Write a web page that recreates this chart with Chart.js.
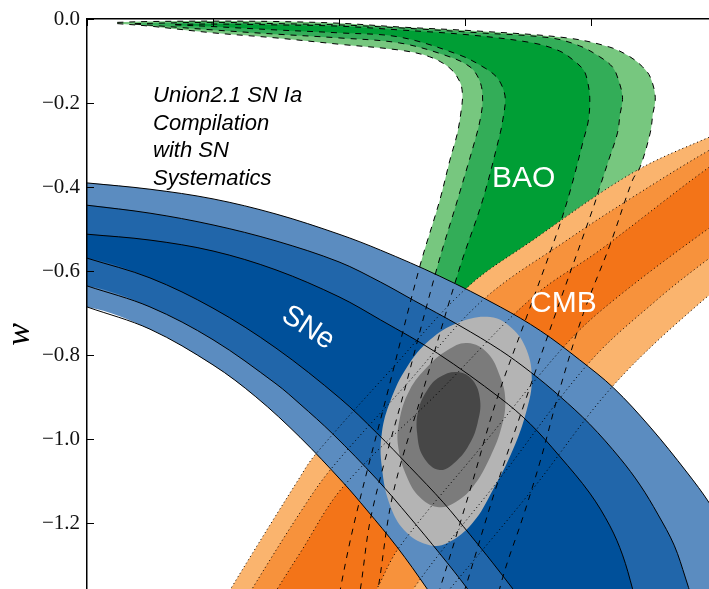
<!DOCTYPE html>
<html>
<head>
<meta charset="utf-8">
<title>Union2.1 w vs Omega_m</title>
<script src="https://cdn.jsdelivr.net/npm/chart.js@4.4.1/dist/chart.umd.min.js"></script>
<style>
  html, body { margin: 0; padding: 0; overflow: hidden; background: #ffffff; }
  #wrap { width: 717px; height: 650px; }
</style>
</head>
<body>
<div id="wrap"><canvas id="c" width="717" height="650"></canvas></div>
<script>
// ---- axes ----
const omegaTicks = [0, 0.1, 0.2, 0.3, 0.4, 0.5];
const wTicks = [0, -0.2, -0.4, -0.6, -0.8, -1.0, -1.2, -1.4];
const wTickLabels = ['0.0', '\u22120.2', '\u22120.4', '\u22120.6', '\u22120.8', '\u22121.0', '\u22121.2', '\u22121.4'];

// ---- SNe confidence contours [Omega_m, w], left to right ----
const sneOuterTop = [[0,-0.390],[0.05,-0.405],[0.1,-0.428],[0.15,-0.464],[0.2,-0.512],[0.233,-0.550],[0.280,-0.612],[0.328,-0.685],[0.360,-0.742],[0.391,-0.811],[0.418,-0.878],[0.447,-0.971],[0.476,-1.078],[0.494,-1.152],[0.518,-1.271],[0.55,-1.454]];
const sneMidTop = [[0,-0.443],[0.05,-0.462],[0.1,-0.490],[0.15,-0.528],[0.2,-0.578],[0.233,-0.626],[0.259,-0.669],[0.296,-0.730],[0.328,-0.788],[0.352,-0.840],[0.375,-0.897],[0.399,-0.964],[0.423,-1.045],[0.439,-1.109],[0.453,-1.178],[0.466,-1.252],[0.475,-1.330],[0.484,-1.418],[0.494,-1.525]];
const sneInnerTop = [[0,-0.512],[0.05,-0.526],[0.1,-0.552],[0.15,-0.597],[0.2,-0.661],[0.233,-0.716],[0.278,-0.795],[0.328,-0.902],[0.352,-0.964],[0.375,-1.040],[0.399,-1.128],[0.415,-1.206],[0.425,-1.275],[0.433,-1.356],[0.443,-1.473]];
const sneInnerBottom = [[0,-0.569],[0.05,-0.616],[0.1,-0.688],[0.15,-0.783],[0.201,-0.903],[0.230,-0.985],[0.256,-1.065],[0.283,-1.151],[0.304,-1.227],[0.322,-1.294],[0.338,-1.356],[0.360,-1.443],[0.383,-1.544]];
const sneMidBottom = [[0,-0.635],[0.05,-0.685],[0.1,-0.763],[0.15,-0.868],[0.169,-0.916],[0.195,-0.987],[0.230,-1.095],[0.256,-1.185],[0.280,-1.272],[0.302,-1.356],[0.328,-1.466],[0.352,-1.573]];
const sneOuterBottom = [[0,-0.685],[0.05,-0.738],[0.1,-0.823],[0.134,-0.899],[0.169,-0.995],[0.203,-1.102],[0.222,-1.168],[0.246,-1.256],[0.270,-1.356],[0.296,-1.473],[0.320,-1.585]];

// ---- CMB confidence contours, lower left to upper right ----
const cmbOuterUpper = [[0.086,-1.501],[0.114,-1.356],[0.169,-1.090],[0.181,-1.037],[0.241,-0.835],[0.302,-0.638],[0.354,-0.526],[0.433,-0.366],[0.494,-0.281],[0.534,-0.236]];
const cmbMidUpper = [[0.102,-1.501],[0.131,-1.356],[0.169,-1.175],[0.193,-1.073],[0.253,-0.871],[0.314,-0.669],[0.381,-0.526],[0.433,-0.424],[0.494,-0.312],[0.534,-0.250]];
const cmbInnerUpper = [[0.121,-1.501],[0.151,-1.356],[0.169,-1.271],[0.203,-1.114],[0.279,-0.888],[0.354,-0.661],[0.407,-0.550],[0.494,-0.352],[0.534,-0.276]];
const cmbInnerLower = [[0.203,-1.501],[0.230,-1.356],[0.248,-1.256],[0.314,-1.014],[0.381,-0.771],[0.418,-0.669],[0.494,-0.497],[0.534,-0.419]];
const cmbMidLower = [[0.233,-1.501],[0.259,-1.356],[0.328,-1.092],[0.399,-0.816],[0.452,-0.669],[0.494,-0.569],[0.534,-0.483]];
const cmbOuterLower = [[0.248,-1.501],[0.288,-1.356],[0.352,-1.125],[0.418,-0.871],[0.489,-0.669],[0.534,-0.569]];

// ---- BAO confidence contours, from the tip near w = 0 downwards ----
const baoOuterLeft = [[0.024,-0.011],[0.05,-0.017],[0.1,-0.033],[0.15,-0.045],[0.2,-0.060],[0.248,-0.074],[0.272,-0.090],[0.288,-0.117],[0.296,-0.150],[0.298,-0.181],[0.297,-0.217],[0.294,-0.271],[0.288,-0.336],[0.280,-0.431],[0.264,-0.590],[0.239,-0.883],[0.214,-1.175],[0.202,-1.342],[0.193,-1.501]];
const baoMidLeft = [[0.038,-0.012],[0.1,-0.026],[0.15,-0.036],[0.2,-0.045],[0.248,-0.057],[0.284,-0.086],[0.304,-0.114],[0.312,-0.150],[0.314,-0.193],[0.312,-0.240],[0.308,-0.288],[0.294,-0.431],[0.278,-0.590],[0.252,-0.883],[0.226,-1.175],[0.217,-1.356],[0.209,-1.501]];
const baoInnerLeft = [[0.070,-0.014],[0.1,-0.018],[0.15,-0.026],[0.2,-0.033],[0.248,-0.043],[0.296,-0.086],[0.316,-0.117],[0.325,-0.138],[0.330,-0.164],[0.332,-0.193],[0.330,-0.240],[0.328,-0.271],[0.314,-0.431],[0.296,-0.590],[0.268,-0.871],[0.243,-1.128],[0.231,-1.356],[0.222,-1.501]];
const baoInnerRight = [[0.070,-0.013],[0.1,-0.012],[0.15,-0.014],[0.2,-0.017],[0.248,-0.026],[0.304,-0.038],[0.354,-0.057],[0.375,-0.076],[0.386,-0.098],[0.394,-0.121],[0.397,-0.145],[0.399,-0.186],[0.398,-0.240],[0.394,-0.288],[0.383,-0.414],[0.373,-0.509],[0.348,-0.716],[0.325,-0.907],[0.304,-1.121],[0.280,-1.356],[0.264,-1.501]];
const baoMidRight = [[0.038,-0.011],[0.1,-0.008],[0.15,-0.011],[0.2,-0.014],[0.248,-0.021],[0.312,-0.033],[0.368,-0.045],[0.391,-0.064],[0.407,-0.090],[0.417,-0.114],[0.421,-0.138],[0.425,-0.186],[0.423,-0.228],[0.421,-0.271],[0.414,-0.336],[0.407,-0.400],[0.402,-0.447],[0.372,-0.700],[0.348,-0.907],[0.324,-1.121],[0.300,-1.356],[0.284,-1.501]];
const baoOuterRight = [[0.024,-0.008],[0.05,-0.006],[0.1,-0.005],[0.15,-0.006],[0.2,-0.010],[0.248,-0.019],[0.312,-0.029],[0.381,-0.045],[0.415,-0.067],[0.431,-0.090],[0.441,-0.114],[0.447,-0.138],[0.451,-0.186],[0.449,-0.228],[0.447,-0.271],[0.439,-0.352],[0.433,-0.383],[0.415,-0.538],[0.394,-0.700],[0.375,-0.883],[0.360,-1.049],[0.346,-1.185],[0.330,-1.328],[0.318,-1.478]];

// ---- combined SNe + BAO + CMB contours (closed, starting at the leftmost point) ----
const combined997 = [[0.234,-0.985],[0.241,-0.907],[0.254,-0.828],[0.272,-0.764],[0.294,-0.723],[0.320,-0.709],[0.337,-0.735],[0.349,-0.788],[0.353,-0.859],[0.349,-0.930],[0.338,-1.025],[0.322,-1.121],[0.306,-1.199],[0.286,-1.247],[0.272,-1.252],[0.254,-1.223],[0.241,-1.161],[0.234,-1.066]];
const combined95 = [[0.247,-1.018],[0.248,-0.954],[0.256,-0.883],[0.270,-0.828],[0.286,-0.788],[0.302,-0.771],[0.318,-0.795],[0.328,-0.852],[0.332,-0.907],[0.329,-0.971],[0.320,-1.042],[0.306,-1.114],[0.291,-1.152],[0.278,-1.161],[0.264,-1.137],[0.254,-1.090]];
const combined68 = [[0.262,-0.985],[0.263,-0.930],[0.270,-0.883],[0.280,-0.852],[0.294,-0.840],[0.306,-0.859],[0.312,-0.907],[0.310,-0.961],[0.304,-1.009],[0.294,-1.049],[0.280,-1.073],[0.267,-1.042]];

// ---- colours ----
const COL = {
  bao: ['#77c77f', '#33ad58', '#009e35'],
  cmb: ['#fab46e', '#f7923c', '#f37418'],
  sne: ['#5b8cc0', '#2166aa', '#00509a'],
  all: ['#b4b4b4', '#7b7b7b', '#474747']
};

// ---- path helpers ----
const toPoints = arr => arr.map(([x, y]) => ({x, y}));
const FAR_LEFT = [-0.5, -3];
const FAR_RIGHT = [1.0, -3];
const LEFT_GUTTER = -0.05;

// closes a region through points lying outside the visible plot
function band(first, second) {
  const last = second[second.length - 1];
  return [FAR_LEFT, ...first, ...second, [last[0], -3], FAR_RIGHT];
}
function sneBand(top, bottom) {
  return band([[LEFT_GUTTER, top[0][1]], ...top],
              [...bottom].reverse().concat([[LEFT_GUTTER, bottom[0][1]]]));
}
function cmbBand(upper, lower) { return band(upper, [...lower].reverse()); }
function baoBand(left, right) { return band([...left].reverse(), right); }
// runs once around the loop and on to its rightmost point
function loopPath(loop) {
  let k = 0;
  loop.forEach((p, i) => { if (p[0] > loop[k][0]) k = i; });
  return loop.concat(loop.slice(0, k + 1));
}

const TENSION = 0.35;
const layers = [];
function fillLayer(path, color, tension) {
  layers.push({data: toPoints(path), fill: 'shape', backgroundColor: color,
    borderColor: 'rgba(0,0,0,0)', borderWidth: 0, tension, clip: 0});
}
function strokeLayer(curve, dash) {
  layers.push({data: toPoints(curve), fill: false, borderColor: '#000000',
    borderWidth: 1, borderDash: dash, tension: TENSION, clip: 0});
}

// fills, bottom to top
fillLayer(baoBand(baoOuterLeft, baoOuterRight), COL.bao[0], TENSION);
fillLayer(baoBand(baoMidLeft, baoMidRight), COL.bao[1], TENSION);
fillLayer(baoBand(baoInnerLeft, baoInnerRight), COL.bao[2], TENSION);
fillLayer(cmbBand(cmbOuterUpper, cmbOuterLower), COL.cmb[0], TENSION);
fillLayer(cmbBand(cmbMidUpper, cmbMidLower), COL.cmb[1], TENSION);
fillLayer(cmbBand(cmbInnerUpper, cmbInnerLower), COL.cmb[2], TENSION);
fillLayer(sneBand(sneOuterTop, sneOuterBottom), COL.sne[0], TENSION);
fillLayer(sneBand(sneMidTop, sneMidBottom), COL.sne[1], TENSION);
fillLayer(sneBand(sneInnerTop, sneInnerBottom), COL.sne[2], TENSION);
fillLayer(loopPath(combined997), COL.all[0], 0.4);
fillLayer(loopPath(combined95), COL.all[1], 0.4);
fillLayer(loopPath(combined68), COL.all[2], 0.4);

// contour lines on top
[baoOuterLeft, baoMidLeft, baoInnerLeft, baoInnerRight, baoMidRight, baoOuterRight]
  .forEach(c => strokeLayer(c, [6, 6]));
[cmbOuterUpper, cmbMidUpper, cmbInnerUpper, cmbInnerLower, cmbMidLower, cmbOuterLower]
  .forEach(c => strokeLayer(c, [1, 3]));
[sneOuterTop, sneMidTop, sneInnerTop, sneInnerBottom, sneMidBottom, sneOuterBottom]
  .forEach(c => strokeLayer(c, []));

layers.forEach((d, i) => { d.order = layers.length - i; });

// ---- text annotations ----
const SANS = '"Liberation Sans", Arial, Helvetica, sans-serif';
const notes = [
  {text: ['Union2.1 SN Ia', 'Compilation', 'with SN', 'Systematics'], at: [0.0524, -0.1975],
   font: 'italic 22px ' + SANS, color: '#000000', step: 27.5, align: 'left', base: 'alphabetic', angle: 0},
  {text: ['BAO'], at: [0.3214, -0.3997], font: '30px ' + SANS, color: '#ffffff', step: 0, align: 'left', base: 'alphabetic', angle: 0},
  {text: ['CMB'], at: [0.3516, -0.6971], font: '30px ' + SANS, color: '#ffffff', step: 0, align: 'left', base: 'alphabetic', angle: 0},
  {text: ['SNe'], at: [0.1754, -0.7352], font: '29px ' + SANS, color: '#ffffff', step: 0, align: 'center', base: 'middle', angle: 33}
];
const notesPlugin = {
  id: 'notes',
  afterDatasetsDraw(chart) {
    const {ctx, scales: {x, y}} = chart;
    notes.forEach(n => {
      ctx.save();
      ctx.translate(x.getPixelForValue(n.at[0]), y.getPixelForValue(n.at[1]));
      ctx.rotate(n.angle * Math.PI / 180);
      ctx.font = n.font;
      ctx.fillStyle = n.color;
      ctx.textAlign = n.align;
      ctx.textBaseline = n.base;
      n.text.forEach((t, i) => ctx.fillText(t, 0, i * n.step));
      ctx.restore();
    });
  }
};

const SERIF = '"Liberation Serif", "Times New Roman", serif';
const tickGrid = {drawOnChartArea: false, drawTicks: true, tickLength: -7, color: '#000000', lineWidth: 1, z: 1};
const spine = {display: true, color: '#000000', width: 1.5, z: 1};

new Chart(document.getElementById('c'), {
  type: 'line',
  data: {datasets: layers},
  plugins: [notesPlugin],
  options: {
    responsive: false,
    animation: false,
    devicePixelRatio: 1,
    events: [],
    layout: {padding: 0, autoPadding: false},
    elements: {
      point: {radius: 0, hoverRadius: 0, hitRadius: 0},
      line: {capBezierPoints: false}
    },
    plugins: {legend: {display: false}, tooltip: {enabled: false}},
    scales: {
      x: {
        type: 'linear', position: 'top', min: 0, max: 0.5,
        afterBuildTicks: s => { s.ticks = omegaTicks.map(v => ({value: v})); },
        ticks: {display: false},
        grid: tickGrid,
        border: spine,
        afterFit: s => { s.height = 19; s.paddingLeft = 0; s.paddingRight = 0; }
      },
      y: {
        type: 'linear', position: 'left', min: -1.5013, max: 0,
        afterBuildTicks: s => { s.ticks = wTicks.map(v => ({value: v})); },
        ticks: {callback: (v, i) => wTickLabels[i], color: '#111111', padding: 14,
                font: {family: SERIF, size: 21}},
        grid: tickGrid,
        border: spine,
        title: {display: true, text: 'w', color: '#000000',
                font: {family: SERIF, style: 'italic', size: 34, lineHeight: 1},
                padding: {top: 3, bottom: 0}},
        afterFit: s => { s.width = 87; s.paddingTop = 0; s.paddingBottom = 0; }
      }
    }
  }
});
</script>
</body>
</html>
